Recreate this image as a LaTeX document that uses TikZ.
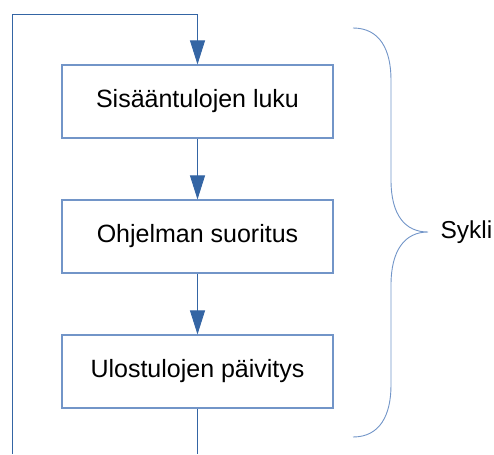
\documentclass[tikz,border=0pt]{standalone}
\usepackage{fontspec}
\setmainfont{Liberation Sans}
\usetikzlibrary{arrows.meta,positioning}
\definecolor{linkblue}{HTML}{3465A4}
\definecolor{boxblue}{HTML}{7295C8}

\begin{document}
\begin{tikzpicture}[x=1pt,y=-1pt,node distance=135pt,on grid,
 block/.style={draw=boxblue,line width=1.1pt,minimum width=271pt,minimum height=73pt,font=\fontsize{25}{29}\selectfont},
 flow/.style={draw=linkblue,line width=0.9pt,-{Triangle[width=15pt,length=24pt,fill=linkblue]}},
 plain/.style={draw=linkblue,line width=0.9pt}]
 \useasboundingbox (0,0) rectangle (494,454);

 \node[block] (read) at (197.5,101.5) {Sisääntulojen luku};
 \node[block] (run) [below=of read] {Ohjelman suoritus};
 \node[block] (write) [below=of run] {Ulostulojen päivitys};

 % loop back to the start
 \coordinate (out) at (197.5,454);
 \coordinate (back) at (12,454);
 \coordinate (top) at (12,14);
 \draw[plain] (write) -- (out);
 \draw[flow] (back) -- (top) -| (read.north);
 \draw[flow] (read) -- (run);
 \draw[flow] (run) -- (write);

 % brace
 \coordinate (tip) at (428,232);
 \draw[draw=boxblue,line width=0.9pt] (353,28) .. controls (380,28) and (391,50) .. (391,80)
   -- (391,180) .. controls (391,215) and (405,232) .. (tip)
   .. controls (405,232) and (391,250) .. (391,285)
   -- (391,385) .. controls (391,415) and (380,437) .. (353,437);
 \node[anchor=west,font=\fontsize{24.5}{28}\selectfont] (cycle) at ([xshift=9pt]tip) {Sykli};
\end{tikzpicture}
\end{document}
